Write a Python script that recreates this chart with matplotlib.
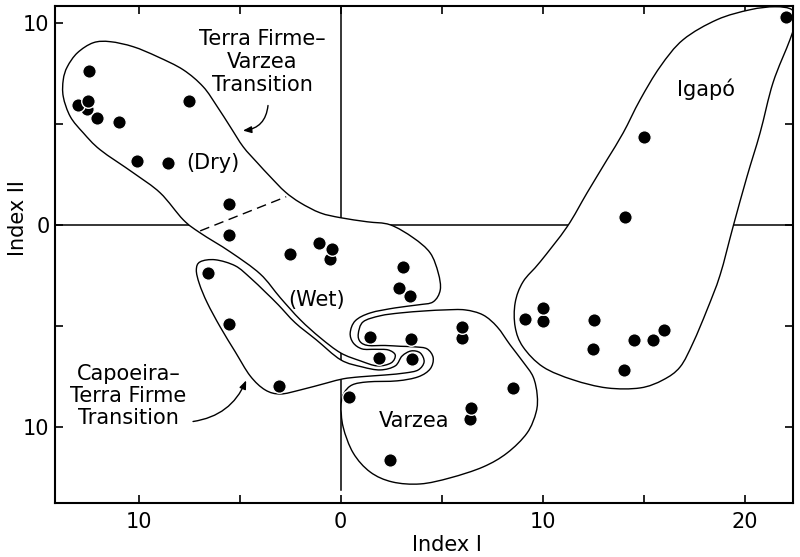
import numpy as np
import matplotlib
matplotlib.use("Agg")
import matplotlib.pyplot as plt
from matplotlib.path import Path
from matplotlib.patches import PathPatch
from matplotlib.ticker import MultipleLocator

# Stand scores on the two ordination indices, grouped by forest type
dry_x = [-12.45, -13.0, -12.55, -12.5, -12.05, -10.96, -7.5, -10.07, -8.54, -5.52]
dry_y = [7.62, 5.94, 5.74, 6.14, 5.30, 5.10, 6.14, 3.17, 3.07, 1.04]
wet_x = [-5.52, -2.5, -1.06, -0.52, -0.42, 3.09, 2.9, 3.44, 1.91]
wet_y = [-0.50, -1.44, -0.89, -1.68, -1.19, -2.08, -3.12, -3.51, -6.58]
capoeira_x = [-6.56, -5.52, -3.04, 3.54]
capoeira_y = [-2.38, -4.90, -7.97, -6.63]
varzea_x = [1.46, 3.49, 0.42, 6.01, 6.01, 8.54, 6.41, 6.46, 2.45]
varzea_y = [-5.54, -5.64, -8.51, -5.59, -5.05, -8.07, -9.60, -9.06, -11.63]
igapo_x = [9.13, 10.02, 10.02, 12.55, 12.5, 14.53, 15.47, 16.01, 14.04, 15.02, 14.08, 22.05]
igapo_y = [-4.65, -4.75, -4.11, -4.70, -6.14, -5.69, -5.69, -5.20, -7.18, 4.36, 0.40, 10.30]

# hand-traced group boundaries (index I, index II)
tfv_outline = [(-13.74, 7.18), (-13.54, 7.82), (-13.04, 8.51), (-12.25, 9.01), (-11.41, 9.06),
               (-10.27, 8.81), (-9.08, 8.32), (-7.80, 7.67), (-6.81, 6.83), (-6.11, 5.84),
               (-5.47, 4.85), (-4.83, 3.86), (-4.13, 3.07), (-3.49, 2.38), (-2.75, 1.63),
               (-2.00, 1.09), (-1.01, 0.59), (0.0, 0.35), (1.31, 0.15), (2.45, 0.0),
               (3.59, -0.64), (4.43, -1.39), (4.83, -2.38), (4.93, -3.22), (4.58, -3.81),
               (3.84, -3.96), (2.70, -4.11), (1.46, -4.36), (0.72, -4.75), (0.47, -5.35),
               (0.62, -5.84), (1.06, -6.14), (1.71, -6.16), (2.35, -6.19), (2.70, -6.44),
               (2.50, -6.83), (1.81, -6.98), (0.97, -6.73), (0.0, -6.34), (-1.01, -5.59),
               (-2.00, -4.70), (-2.99, -3.61), (-3.99, -2.43), (-5.47, -1.34), (-6.96, -0.40),
               (-7.80, 0.25), (-8.94, 1.58), (-10.27, 2.57), (-11.91, 3.71), (-12.75, 4.55),
               (-13.39, 5.35), (-13.74, 6.34)]
capoeira_outline = [(-6.96, -1.83), (-6.21, -1.73), (-5.22, -2.03), (-4.48, -2.62), (-3.74, -3.32),
                    (-3.09, -3.96), (-2.25, -4.85), (-1.21, -5.69), (0.0, -6.68), (1.06, -7.03),
                    (1.96, -7.18), (2.70, -6.98), (3.04, -6.49), (3.49, -6.24), (3.94, -6.34),
                    (4.13, -6.78), (3.84, -7.18), (3.19, -7.33), (2.20, -7.43), (0.97, -7.52),
                    (0.12, -7.62), (-0.67, -7.82), (-2.00, -8.17), (-2.99, -8.37), (-3.74, -8.17),
                    (-4.48, -7.48), (-5.22, -6.29), (-5.97, -5.05), (-6.61, -3.86), (-7.00, -2.92),
                    (-7.15, -2.23)]
varzea_outline = [(0.87, -5.40), (1.11, -4.80), (1.96, -4.50), (2.95, -4.36), (4.18, -4.26),
                  (5.17, -4.21), (6.16, -4.21), (7.05, -4.46), (7.75, -5.05), (8.39, -5.94),
                  (9.03, -6.78), (9.53, -7.52), (9.73, -8.42), (9.68, -9.26), (9.23, -10.30),
                  (8.24, -11.29), (7.05, -11.98), (5.42, -12.52), (3.94, -12.82), (2.55, -12.72),
                  (1.46, -12.23), (0.62, -11.29), (0.12, -10.00), (0.02, -8.91), (0.17, -8.32),
                  (0.57, -7.92), (1.36, -7.77), (2.80, -7.72), (3.84, -7.52), (4.43, -7.13),
                  (4.58, -6.58), (4.28, -6.14), (3.69, -6.04), (2.95, -6.01), (2.20, -5.97),
                  (1.36, -5.97), (0.97, -5.79)]
igapo_outline = [(8.64, -5.05), (8.64, -3.86), (9.03, -2.82), (9.88, -1.83), (11.21, -0.10),
                 (12.20, 1.58), (13.19, 3.22), (13.99, 4.55), (14.83, 6.19), (15.82, 7.82),
                 (16.96, 9.16), (18.64, 10.15), (20.27, 10.64), (21.51, 10.79), (22.35, 10.64),
                 (22.50, 10.05), (22.25, 9.16), (21.41, 7.03), (20.77, 4.55), (20.12, 2.38),
                 (19.43, -0.10), (18.79, -2.48), (18.14, -4.21), (17.45, -5.84), (16.81, -7.03),
                 (15.97, -7.67), (14.83, -8.07), (13.19, -8.07), (11.51, -7.67), (10.02, -7.03),
                 (9.03, -6.04)]
dry_wet_split = ([-6.96, -2.70], [-0.30, 1.39])

x_ticks = [-10, 0, 10, 20]
x_tick_labels = ["10", "0", "10", "20"]
y_ticks = [-10, 0, 10]
y_tick_labels = ["10", "0", "10"]


def smooth_closed(points):
    # closed Catmull-Rom outline expressed as cubic Bezier segments
    p = np.asarray(points, dtype=float)
    n = len(p)
    verts = [p[0]]
    codes = [Path.MOVETO]
    for i in range(n):
        p0, p1, p2, p3 = p[i - 1], p[i], p[(i + 1) % n], p[(i + 2) % n]
        verts += [p1 + (p2 - p0) / 6.0, p2 - (p3 - p1) / 6.0, p2]
        codes += [Path.CURVE4] * 3
    return Path(verts, codes)


plt.rcParams["font.family"] = "DejaVu Sans"
fig = plt.figure(figsize=(8, 5.57), dpi=100)
ax = fig.add_axes([0.06875, 0.0978, 0.9225, 0.8923])
ax.set_xlim(-14.15, 22.4)
ax.set_ylim(-13.74, 10.85)

# cross lines through the origin, hidden inside the outlined groups
ax.axvline(0, ymin=0.025, color="black", lw=1.1, zorder=1)
ax.axhline(0, color="black", lw=1.1, zorder=1)

for outline in (tfv_outline, capoeira_outline, varzea_outline, igapo_outline):
    ax.add_patch(PathPatch(smooth_closed(outline), facecolor="white",
                           edgecolor="black", lw=1.0, zorder=2))

ax.plot(dry_wet_split[0], dry_wet_split[1], color="black", lw=1.0,
        dashes=(7, 4), zorder=3)

xs = np.concatenate([dry_x, wet_x, capoeira_x, varzea_x, igapo_x])
ys = np.concatenate([dry_y, wet_y, capoeira_y, varzea_y, igapo_y])
order = np.argsort(ys)
ax.scatter(xs[order], ys[order], s=95, color="black", edgecolor="white",
           linewidth=1.0, zorder=4)

txt = dict(fontsize=15, ha="center", va="center", zorder=5)
ax.text(-3.89, 8.07, "Terra Firme–\nVarzea\nTransition", linespacing=1.2, **txt)
ax.text(-6.31, 3.07, "(Dry)", **txt)
ax.text(-1.21, -3.71, "(Wet)", **txt)
ax.text(-10.52, -8.47, "Capoeira–\nTerra Firme\nTransition", linespacing=1.15, **txt)
ax.text(3.64, -9.70, "Varzea", **txt)
ax.text(18.09, 6.73, "Igapó", **txt)

arrow = dict(arrowstyle="-|>,head_length=0.5,head_width=0.2", color="black", lw=1.0)
ax.annotate("", xy=(-4.98, 4.65), xytext=(-3.59, 6.04),
            arrowprops=dict(connectionstyle="arc3,rad=-0.45", **arrow))
ax.annotate("", xy=(-4.63, -7.57), xytext=(-7.45, -9.75),
            arrowprops=dict(connectionstyle="arc3,rad=0.3", **arrow))

ax.set_xticks(x_ticks)
ax.set_xticklabels(x_tick_labels)
ax.set_yticks(y_ticks)
ax.set_yticklabels(y_tick_labels)
ax.xaxis.set_minor_locator(MultipleLocator(5))
ax.yaxis.set_minor_locator(MultipleLocator(5))
ax.tick_params(which="both", direction="in", top=True, right=True,
               length=6, width=1.2, labelsize=15)
ax.tick_params(axis="x", pad=7)
ax.tick_params(axis="y", pad=4)
for spine in ax.spines.values():
    spine.set_linewidth(1.5)
    spine.set_zorder(6)

fig.text(0.559, 0.0215, "Index I", fontsize=15, ha="center", va="center")
fig.text(0.0225, 0.6086, "Index II", fontsize=15, ha="center", va="center",
         rotation=90)

fig.savefig("out.png", dpi=100)
